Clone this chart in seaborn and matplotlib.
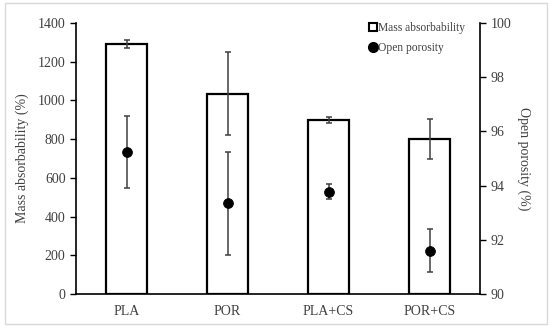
import numpy as np
import pandas as pd
import matplotlib.pyplot as plt
import seaborn as sns
from matplotlib.lines import Line2D
from matplotlib.patches import Rectangle

# ------------------------------------------------------------
# Data
# ------------------------------------------------------------
samples = ['PLA', 'POR', 'PLA+CS', 'POR+CS']
mass_abs = [1290, 1035, 900, 800]
mass_abs_err = [20, 215, 15, 103]
porosity = [95.25, 93.35, 93.78, 91.6]
porosity_err = [1.33, 1.9, 0.28, 0.8]

df = pd.DataFrame({'sample': samples, 'mass': mass_abs, 'porosity': porosity})

sns.set_theme(style='white')
plt.rcParams['font.family'] = ['Liberation Serif', 'DejaVu Serif']
plt.rcParams['font.size'] = 10

fig, ax = plt.subplots(figsize=(5.5, 3.29), dpi=100)
fig.subplots_adjust(left=76/550, right=480/550, bottom=1-294/329, top=1-23/329)

# light frame around figure
fig.patches.append(Rectangle((5/550, 5/329), 542/550, 321/329, transform=fig.transFigure,
                             fill=False, edgecolor='#d9d9d9', linewidth=1))

# ------------------------------------------------------------
# Bars: mass absorbability
# ------------------------------------------------------------
sns.barplot(data=df, x='sample', y='mass', color='white', edgecolor='black',
            linewidth=1.6, width=0.4, errorbar=None, ax=ax)
ax.errorbar(np.arange(len(samples)), mass_abs, yerr=mass_abs_err, fmt='none',
            ecolor='#404040', elinewidth=1.1, capsize=2.5, capthick=1.1)
ax.set_ylim(0, 1400)
ax.set_yticks(range(0, 1401, 200))
ax.set_xlim(-0.5, 3.5)
ax.set_xlabel('')
ax.set_ylabel('Mass absorbability (%)', color='#404040', fontsize=10, labelpad=6)

# ------------------------------------------------------------
# Points: open porosity on secondary axis
# ------------------------------------------------------------
ax2 = ax.twinx()
ax2.errorbar(np.arange(len(samples)), porosity, yerr=porosity_err, fmt='none',
             ecolor='#404040', elinewidth=1.1, capsize=2.5, capthick=1.1)
sns.scatterplot(x=np.arange(len(samples)), y=porosity, color='black', s=50,
                edgecolor='black', ax=ax2, zorder=5)
ax2.set_ylim(90, 100)
ax2.set_yticks(range(90, 101, 2))
ax2.set_ylabel('Open porosity (%)', color='#404040', fontsize=10, rotation=270, labelpad=14)

for a in (ax, ax2):
    for s in a.spines.values():
        s.set_visible(False)
ax.spines['left'].set_visible(True)
ax.spines['bottom'].set_visible(True)
ax2.spines['right'].set_visible(True)
for s in (ax.spines['left'], ax.spines['bottom'], ax2.spines['right']):
    s.set_color('black')
    s.set_linewidth(1.2)

ax.tick_params(axis='y', left=True, length=4, width=1, color='black', labelcolor='#404040', labelsize=10)
ax.tick_params(axis='x', bottom=False, labelcolor='#404040', labelsize=10, pad=2)
ax2.tick_params(axis='y', right=True, length=4, width=1, color='black', labelcolor='#404040', labelsize=10)

# ------------------------------------------------------------
# Legend
# ------------------------------------------------------------
handles = [Line2D([], [], marker='s', linestyle='none', markerfacecolor='white',
                  markeredgecolor='black', markeredgewidth=1.5, markersize=6),
           Line2D([], [], marker='o', linestyle='none', color='black', markersize=7)]
ax.legend(handles, ['Mass absorbability', 'Open porosity'], loc='upper left',
          bbox_to_anchor=(358/550, 1-12/329), bbox_transform=fig.transFigure,
          frameon=False, handlelength=0.8, handletextpad=0.05, labelspacing=0.7,
          fontsize=8.3, labelcolor='#404040')

fig.savefig('out.png', dpi=100)
